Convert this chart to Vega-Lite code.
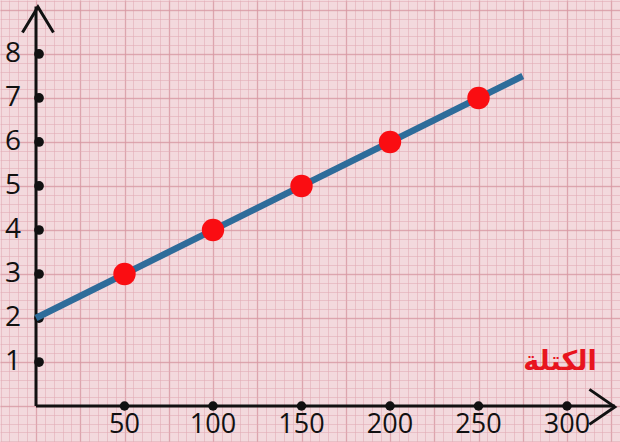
{
  "$schema": "https://vega.github.io/schema/vega-lite/v6.json",
  "width": 620,
  "height": 442,
  "padding": 0,
  "autosize": {"type": "none"},
  "background": "#f3d9dd",
  "config": {
    "view": {"stroke": null},
    "axis": {"labels": false, "ticks": false, "domain": false, "title": null}
  },
  "datasets": {
    "pts": [
      {"mass": 50, "v": 3},
      {"mass": 100, "v": 4},
      {"mass": 150, "v": 5},
      {"mass": 200, "v": 6},
      {"mass": 250, "v": 7}
    ],
    "fit": [
      {"mass": 0, "v": 2},
      {"mass": 275, "v": 7.5}
    ],
    "yt": [{"v": 1}, {"v": 2}, {"v": 3}, {"v": 4}, {"v": 5}, {"v": 6}, {"v": 7}, {"v": 8}],
    "xt": [{"mass": 50}, {"mass": 100}, {"mass": 150}, {"mass": 200}, {"mass": 250}, {"mass": 300}]
  },
  "layer": [
    {
      "data": {"values": [{}]},
      "mark": {"type": "point", "opacity": 0},
      "encoding": {
        "x": {"datum": 0, "type": "quantitative",
          "scale": {"domain": [-20.34, 329.94], "nice": false, "zero": false},
          "axis": {"orient": "bottom", "grid": true, "tickCount": 70, "gridColor": "#e2aab3", "gridWidth": 0.9, "gridOpacity": 0.6}},
        "y": {"datum": 0, "type": "quantitative",
          "scale": {"domain": [-0.818, 9.227], "nice": false, "zero": false},
          "axis": {"orient": "left", "grid": true, "tickCount": 50, "gridColor": "#e2aab3", "gridWidth": 0.9, "gridOpacity": 0.6}}
      }
    },
    {
      "data": {"values": [{}]},
      "mark": {"type": "point", "opacity": 0},
      "encoding": {
        "x": {"datum": 0, "type": "quantitative",
          "scale": {"domain": [-20.34, 329.94], "nice": false, "zero": false},
          "axis": {"orient": "top", "grid": true, "values": [0, 25, 50, 75, 100, 125, 150, 175, 200, 225, 250, 275, 300, 325], "gridColor": "#d38f9b", "gridWidth": 1.4, "gridOpacity": 0.55}},
        "y": {"datum": 0, "type": "quantitative",
          "scale": {"domain": [-0.818, 9.227], "nice": false, "zero": false},
          "axis": {"orient": "right", "grid": true, "values": [0, 1, 2, 3, 4, 5, 6, 7, 8, 9], "gridColor": "#d38f9b", "gridWidth": 1.4, "gridOpacity": 0.55}}
      }
    },
    {
      "data": {"values": [{}]},
      "mark": {"type": "rule", "color": "#111111", "strokeWidth": 3},
      "encoding": {
        "x": {"datum": 0, "type": "quantitative", "scale": {"domain": [-20.34, 329.94], "nice": false, "zero": false}, "axis": null},
        "y": {"datum": 0, "type": "quantitative", "scale": {"domain": [-0.818, 9.227], "nice": false, "zero": false}, "axis": null},
        "y2": {"datum": 9.08}
      }
    },
    {
      "data": {"values": [{}]},
      "mark": {"type": "rule", "color": "#111111", "strokeWidth": 3},
      "encoding": {
        "x": {"datum": 0, "type": "quantitative", "scale": {"domain": [-20.34, 329.94], "nice": false, "zero": false}, "axis": null},
        "x2": {"datum": 327},
        "y": {"datum": 0, "type": "quantitative", "scale": {"domain": [-0.818, 9.227], "nice": false, "zero": false}, "axis": null}
      }
    },
    {
      "data": {"values": [{}]},
      "mark": {"type": "point", "shape": "M-1,1.65L0,0L1,1.65", "filled": false, "stroke": "#111111", "strokeWidth": 3, "size": 961, "opacity": 1},
      "encoding": {
        "x": {"datum": 1.1, "type": "quantitative", "scale": {"domain": [-20.34, 329.94], "nice": false, "zero": false}, "axis": null},
        "y": {"datum": 9.07, "type": "quantitative", "scale": {"domain": [-0.818, 9.227], "nice": false, "zero": false}, "axis": null}
      }
    },
    {
      "data": {"values": [{}]},
      "mark": {"type": "point", "shape": "M-1,1.45L0,0L1,1.45", "filled": false, "stroke": "#111111", "strokeWidth": 3, "size": 1225, "angle": 90, "opacity": 1},
      "encoding": {
        "x": {"datum": 327, "type": "quantitative", "scale": {"domain": [-20.34, 329.94], "nice": false, "zero": false}, "axis": null},
        "y": {"datum": -0.02, "type": "quantitative", "scale": {"domain": [-0.818, 9.227], "nice": false, "zero": false}, "axis": null}
      }
    },
    {
      "data": {"name": "yt"},
      "mark": {"type": "point", "filled": true, "color": "#111111", "size": 95, "opacity": 1, "xOffset": 3},
      "encoding": {
        "x": {"datum": 0, "type": "quantitative", "scale": {"domain": [-20.34, 329.94], "nice": false, "zero": false}, "axis": null},
        "y": {"field": "v", "type": "quantitative", "scale": {"domain": [-0.818, 9.227], "nice": false, "zero": false}, "axis": null}
      }
    },
    {
      "data": {"name": "xt"},
      "mark": {"type": "point", "filled": true, "color": "#111111", "size": 90, "opacity": 1},
      "encoding": {
        "x": {"field": "mass", "type": "quantitative", "scale": {"domain": [-20.34, 329.94], "nice": false, "zero": false}, "axis": null},
        "y": {"datum": 0, "type": "quantitative", "scale": {"domain": [-0.818, 9.227], "nice": false, "zero": false}, "axis": null}
      }
    },
    {
      "data": {"name": "yt"},
      "mark": {"type": "text", "font": "Open Sans", "fontSize": 28, "color": "#111111", "align": "center", "baseline": "middle", "dx": -23},
      "encoding": {
        "x": {"datum": 0, "type": "quantitative", "scale": {"domain": [-20.34, 329.94], "nice": false, "zero": false}, "axis": null},
        "y": {"field": "v", "type": "quantitative", "scale": {"domain": [-0.818, 9.227], "nice": false, "zero": false}, "axis": null},
        "text": {"field": "v"}
      }
    },
    {
      "data": {"name": "xt"},
      "mark": {"type": "text", "font": "Open Sans", "fontSize": 27, "color": "#111111", "align": "center", "baseline": "middle", "dy": 19},
      "encoding": {
        "x": {"field": "mass", "type": "quantitative", "scale": {"domain": [-20.34, 329.94], "nice": false, "zero": false}, "axis": null},
        "y": {"datum": 0, "type": "quantitative", "scale": {"domain": [-0.818, 9.227], "nice": false, "zero": false}, "axis": null},
        "text": {"field": "mass"}
      }
    },
    {
      "data": {"name": "fit"},
      "mark": {"type": "line", "color": "#2e6c9a", "strokeWidth": 6.5},
      "encoding": {
        "x": {"field": "mass", "type": "quantitative", "scale": {"domain": [-20.34, 329.94], "nice": false, "zero": false}, "axis": null},
        "y": {"field": "v", "type": "quantitative", "scale": {"domain": [-0.818, 9.227], "nice": false, "zero": false}, "axis": null}
      }
    },
    {
      "data": {"name": "pts"},
      "mark": {"type": "point", "filled": true, "color": "#fa0d12", "size": 500, "opacity": 1},
      "encoding": {
        "x": {"field": "mass", "type": "quantitative", "scale": {"domain": [-20.34, 329.94], "nice": false, "zero": false}, "axis": null},
        "y": {"field": "v", "type": "quantitative", "scale": {"domain": [-0.818, 9.227], "nice": false, "zero": false}, "axis": null}
      }
    },
    {
      "data": {"values": [{"label": "الكتلة"}]},
      "mark": {"type": "text", "font": "DejaVu Sans", "fontWeight": "bold", "fontSize": 27, "color": "#e8141e", "align": "center", "baseline": "middle"},
      "encoding": {
        "x": {"datum": 296, "type": "quantitative", "scale": {"domain": [-20.34, 329.94], "nice": false, "zero": false}, "axis": null},
        "y": {"datum": 1.0, "type": "quantitative", "scale": {"domain": [-0.818, 9.227], "nice": false, "zero": false}, "axis": null},
        "text": {"field": "label"}
      }
    }
  ],
  "resolve": {"axis": {"x": "independent", "y": "independent"}}
}
